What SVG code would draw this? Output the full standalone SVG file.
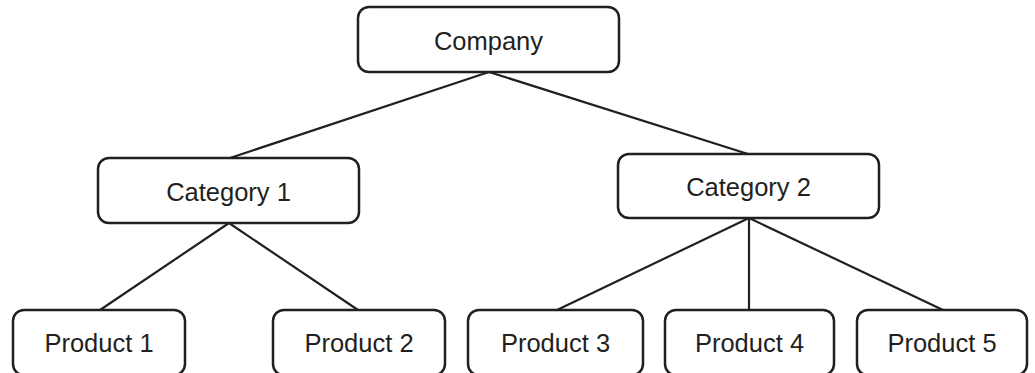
<svg xmlns="http://www.w3.org/2000/svg" width="1035" height="373" viewBox="0 0 1035 373">
<style>
.box{fill:#fff;stroke:#231f20;stroke-width:2.5}
.lbl{font-family:"Liberation Sans",Arial,sans-serif;font-size:25.5px;fill:#231f20;text-anchor:middle;dominant-baseline:central}
.conn line{stroke:#231f20;stroke-width:2.2}
</style>
<rect width="1035" height="373" fill="#fff"/>
<g id="connectors" class="conn">
<line x1="489" y1="72" x2="230" y2="158"/>
<line x1="489" y1="72" x2="748" y2="154"/>
<line x1="229" y1="223" x2="100" y2="310"/>
<line x1="229" y1="223" x2="358" y2="310"/>
<line x1="749" y1="218" x2="557" y2="310"/>
<line x1="749" y1="218" x2="749" y2="310"/>
<line x1="749" y1="218" x2="943" y2="310"/>
</g>
<g id="company"><rect class="box" x="358" y="7" width="261" height="65" rx="11"/><text class="lbl" x="488.5" y="41">Company</text></g>
<g id="category1"><rect class="box" x="98" y="158" width="261" height="65" rx="11"/><text class="lbl" x="228.5" y="192">Category 1</text></g>
<g id="category2"><rect class="box" x="618" y="154" width="261" height="64" rx="11"/><text class="lbl" x="748.5" y="187">Category 2</text></g>
<g id="product1"><rect class="box" x="13" y="310" width="172" height="65" rx="11"/><text class="lbl" x="99" y="343">Product 1</text></g>
<g id="product2"><rect class="box" x="273" y="310" width="172" height="65" rx="11"/><text class="lbl" x="359" y="343">Product 2</text></g>
<g id="product3"><rect class="box" x="468" y="310" width="175" height="65" rx="11"/><text class="lbl" x="555.5" y="343">Product 3</text></g>
<g id="product4"><rect class="box" x="665" y="310" width="169" height="65" rx="11"/><text class="lbl" x="749.5" y="343">Product 4</text></g>
<g id="product5"><rect class="box" x="857" y="310" width="170" height="65" rx="11"/><text class="lbl" x="942" y="343">Product 5</text></g>
</svg>
